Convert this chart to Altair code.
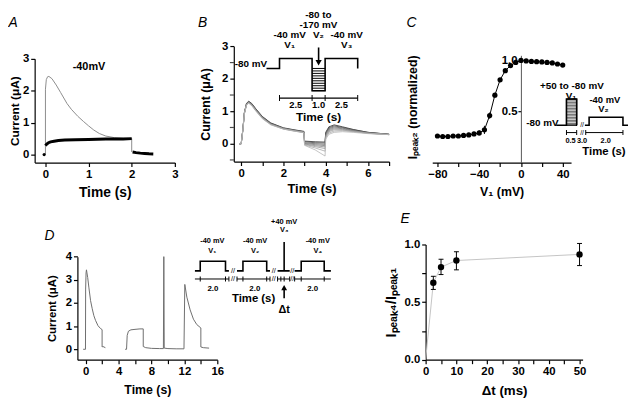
import altair as alt
import pandas as pd

FONT = "Liberation Sans"
M = 8            # page margin
W, H = 630, 394  # drawing area

# ======================= DATA =======================
# ---- Panel A : currents at -40 mV ----
A_GRAY_T = [0.0, 0.0, 0.02, 0.05, 0.08, 0.15, 0.25, 0.35, 0.5, 0.6, 0.75, 0.88, 1.0, 1.12, 1.25, 1.4, 1.6, 1.8, 2.0, 2.0]
A_GRAY_I = [0.0, 2.05, 2.35, 2.44, 2.45, 2.38, 2.18, 1.95, 1.6, 1.42, 1.2, 1.04, 0.9, 0.77, 0.66, 0.58, 0.53, 0.51, 0.5, 0.08]
A_BLACK_T = [0.0, 0.03, 0.07, 0.12, 0.2, 0.3, 0.45, 0.7, 1.0, 1.4, 1.8, 2.0]
A_BLACK_I = [0.28, 0.33, 0.37, 0.4, 0.42, 0.44, 0.455, 0.465, 0.475, 0.485, 0.49, 0.5]
A_TAIL_T = [2.02, 2.1, 2.2, 2.3, 2.4, 2.5]
A_TAIL_I = [0.08, 0.06, 0.045, 0.035, 0.025, 0.02]
A_DOT_T = [-0.03]
A_DOT_I = [0.0]
A_XTICKS = [0, 0.5, 1, 1.5, 2, 2.5, 3]
A_YTICKS = [0, 0.5, 1, 1.5, 2, 2.5, 3]

# ---- Panel B : family of traces ----
B_T = [-0.1, 0.0, 0.08, 0.15, 0.25, 0.35, 0.5, 0.7, 1.0, 1.4, 2.0, 2.5, 2.97,
       3.0, 3.5, 3.97, 4.0, 4.15, 4.4, 4.8, 5.3, 6.0, 7.0]
B_TRACES = [
    [0, 0, 0.45, 0.96, 1.24, 1.31, 1.24, 1.07, 0.84, 0.64, 0.49, 0.43, 0.38, 0.08, 0.06, 0.05, 0.35, 0.52, 0.58, 0.52, 0.44, 0.35, 0.29],
    [0, 0, 0.44, 0.95, 1.23, 1.30, 1.23, 1.06, 0.83, 0.63, 0.48, 0.42, 0.37, 0.06, 0.03, 0.02, 0.32, 0.49, 0.55, 0.50, 0.43, 0.35, 0.29],
    [0, 0, 0.44, 0.94, 1.22, 1.29, 1.22, 1.05, 0.82, 0.62, 0.47, 0.41, 0.36, 0.03, 0.00, -0.02, 0.30, 0.46, 0.52, 0.48, 0.41, 0.34, 0.29],
    [0, 0, 0.43, 0.94, 1.21, 1.28, 1.21, 1.04, 0.81, 0.61, 0.47, 0.41, 0.36, 0.01, -0.03, -0.06, 0.27, 0.43, 0.49, 0.46, 0.40, 0.33, 0.28],
    [0, 0, 0.43, 0.93, 1.20, 1.27, 1.20, 1.03, 0.80, 0.60, 0.46, 0.40, 0.35, -0.01, -0.06, -0.10, 0.24, 0.40, 0.46, 0.44, 0.39, 0.33, 0.28],
    [0, 0, 0.42, 0.93, 1.20, 1.27, 1.19, 1.02, 0.79, 0.60, 0.46, 0.40, 0.35, -0.02, -0.09, -0.15, 0.21, 0.37, 0.43, 0.42, 0.38, 0.32, 0.28],
    [0, 0, 0.42, 0.92, 1.19, 1.26, 1.18, 1.01, 0.78, 0.59, 0.45, 0.39, 0.34, -0.04, -0.13, -0.23, 0.18, 0.33, 0.39, 0.40, 0.37, 0.32, 0.28],
    [0, 0, 0.41, 0.92, 1.18, 1.25, 1.17, 1.00, 0.77, 0.58, 0.45, 0.39, 0.34, -0.05, -0.19, -0.38, 0.14, 0.29, 0.35, 0.37, 0.35, 0.31, 0.28],
]
B_XTICKS = [0, 1, 2, 3, 4, 5, 6, 7]
B_YTICKS = [0, 1, 2, 3]
B_YMINOR = [-0.5, 0.5, 1.5, 2.5]
# inset protocol (schematic time in s, voltage in mV)
B_PROT_T = [-1.0, 0.0, 0.0, 2.5, 2.5, 3.5, 3.5, 6.0, 6.0]
B_PROT_V = [-80, -80, -40, -40, -170, -170, -40, -40, -80]
B_STEP_V = [-80, -90, -100, -110, -120, -130, -140, -150, -160, -170]
B_BAR_TICKS = [0.0, 2.5, 3.5, 6.0]
B_BAR_LABELS = ["2.5", "1.0", "2.5"]

# ---- Panel C : availability curve ----
C_V1 = [-80, -75, -70, -65, -60, -55, -50, -45, -40, -35, -30, -25, -20, -15, -10, -5, 0, 5, 10, 15, 20, 25, 30, 35, 40]
C_I = [0.26, 0.255, 0.255, 0.26, 0.26, 0.265, 0.27, 0.28, 0.29, 0.32, 0.46, 0.66, 0.81, 0.90, 0.95, 0.98, 1.0, 0.995, 0.99, 0.988, 0.985, 0.98, 0.975, 0.965, 0.955]
C_ERR = [0.01, 0.01, 0.01, 0.012, 0.012, 0.015, 0.02, 0.02, 0.025, 0.04, 0.03, 0.02, 0.015, 0.01, 0.01, 0.01, 0.005, 0.005, 0.005, 0.005, 0.005, 0.005, 0.005, 0.005, 0.005]
C_XTICKS = [-80, -60, -40, -20, 0, 20, 40]
C_YTICKS = [0.5, 1.0]
C_PROT1_T = [-0.5, 0.0, 0.0, 0.5, 0.5, 0.62]
C_PROT1_V = [-80, -80, 50, 50, -80, -80]
C_PROT2_T = [3.25, 3.5, 3.5, 5.5, 5.5, 5.8]
C_PROT2_V = [-80, -80, -40, -40, -80, -80]
C_STRIPES = [-65, -50, -35, -20, -5, 10, 25, 40]

# ---- Panel D : four-pulse protocol currents ----
D1_T = [-0.3, -0.02, 0.0, 0.05, 0.1, 0.25, 0.4, 0.6, 0.8, 1.0, 1.2, 1.5, 1.8, 2.0, 2.0, 2.1, 2.4]
D1_I = [0.0, 0.0, 2.6, 3.3, 3.43, 3.1, 2.65, 2.1, 1.75, 1.45, 1.25, 1.02, 0.9, 0.85, 0.1, 0.12, 0.07]
D2_T = [4.8, 4.97, 5.05, 5.2, 5.5, 6.0, 6.6, 7.0, 7.0, 7.3, 8.0, 9.0, 9.45, 9.5, 9.55, 10.0, 11.0, 11.95, 12.05, 12.3, 12.7, 13.1, 13.5, 14.0, 14.0, 14.3, 15.0]
D2_I = [0.0, 0.0, 0.6, 0.78, 0.84, 0.86, 0.88, 0.88, 0.12, 0.07, 0.04, 0.03, 0.03, 4.0, 0.05, 0.03, 0.02, 0.02, 2.8, 2.25, 1.7, 1.3, 1.07, 0.92, 0.1, 0.07, 0.05]
D_XTICKS = [0, 2, 4, 6, 8, 10, 12, 14, 16]
D_YTICKS = [0, 1, 2, 3, 4]
D_PROT = [
    ([-0.42, 0.0, 0.0, 2.0, 2.0, 2.27], [-80, -80, -40, -40, -80, -80]),
    ([2.91, 3.38, 3.38, 5.26, 5.26, 5.52], [-80, -80, -40, -40, -80, -80]),
    ([6.12, 6.64, 6.64, 6.64, 7.08], [-80, -80, 40, -80, -80]),
    ([7.47, 7.99, 7.99, 9.81, 9.81, 10.34], [-80, -80, -40, -40, -80, -80]),
]
D_BAR_START = [-0.42, 2.91, 6.12, 7.47]
D_BAR_END = [2.27, 5.52, 7.08, 10.34]
D_BAR_TICKS = [0.0, 2.0, 2.27, 2.91, 3.38, 5.26, 5.52, 6.12, 6.38, 6.64, 7.08, 7.47, 7.99, 9.81]
D_BREAKS = [2.59, 5.82, 7.28]

# ---- Panel E : recovery vs interval ----
E_DT = [2.5, 5, 10, 50]
E_MEAN = [0.668, 0.804, 0.861, 0.914]
E_LO = [0.61, 0.739, 0.78, 0.817]
E_HI = [0.724, 0.872, 0.937, 1.009]
E_LINE_T = [0, 2.5, 5, 10, 50]
E_LINE_V = [0, 0.668, 0.804, 0.861, 0.914]
E_XTICKS = [0, 5, 10, 15, 20, 25, 30, 35, 40, 45, 50]
E_YTICKS = [0, 0.25, 0.5, 0.75, 1.0]


# ======================= HELPERS =======================
def sc(domain, p0, p1):
    return alt.Scale(domain=domain, range=[p0 - M, p1 - M], nice=False, zero=False)


def lab_expr(every):
    return f"abs(datum.value / {every} - round(datum.value / {every})) < 0.001 ? datum.label : ''"


def ax_bottom(ypx, values, every, title, tsize, tpad=4, fmt="d"):
    return alt.Axis(orient="bottom", offset=(ypx - M) - H, values=values, labelExpr=lab_expr(every),
                    titleFontSize=tsize, titlePadding=tpad, labelFlush=False, labelOverlap=False,
                    title=title, format=fmt)


def ax_left(xpx, values, every, title, tsize=12, tpad=4, fmt="d"):
    return alt.Axis(orient="left", offset=-(xpx - M), values=values, labelExpr=lab_expr(every),
                    titleFontSize=tsize, titlePadding=tpad, labelFlush=False, labelOverlap=False,
                    title=title, format=fmt)


def frame(xs, ys, **extra):
    d = pd.DataFrame({"x": xs, "y": ys, **extra})
    d["i"] = range(len(d))
    return d


def line(df, sx, sy, color="black", width=1.0, xaxis=None, yaxis=None, detail=False):
    enc = dict(x=alt.X("x:Q", scale=sx, axis=xaxis), y=alt.Y("y:Q", scale=sy, axis=yaxis), order="i:Q")
    if detail:
        enc["detail"] = "seg:N"
    return alt.Chart(df).mark_line(color=color, strokeWidth=width).encode(**enc)


def text(labels, xs, ys, sx, sy, size, weight="bold", style="normal", angle=0, align="center"):
    df = pd.DataFrame({"x": xs, "y": ys, "label": labels})
    return alt.Chart(df).mark_text(font=FONT, fontSize=size, fontWeight=weight, fontStyle=style,
                                   angle=angle, align=align, baseline="middle", color="black").encode(
        x=alt.X("x:Q", scale=sx, axis=None), y=alt.Y("y:Q", scale=sy, axis=None), text="label:N")


def hrules(x0, x1, ys, sx, sy, color="black", width=1.0):
    df = pd.DataFrame({"x": x0, "x2": x1, "y": ys})
    return alt.Chart(df).mark_rule(color=color, strokeWidth=width).encode(
        x=alt.X("x:Q", scale=sx, axis=None), x2="x2:Q", y=alt.Y("y:Q", scale=sy, axis=None))


def vrules(xs, y0, y1, sx, sy, color="black", width=1.0):
    df = pd.DataFrame({"x": xs, "y": y0, "y2": y1})
    return alt.Chart(df).mark_rule(color=color, strokeWidth=width).encode(
        x=alt.X("x:Q", scale=sx, axis=None), y=alt.Y("y:Q", scale=sy, axis=None), y2="y2:Q")


def ticks(xs, ys, sx, sy, orient="vertical", size=6):
    df = pd.DataFrame({"x": xs, "y": ys})
    return alt.Chart(df).mark_tick(orient=orient, size=size, thickness=1, color="black", opacity=1).encode(
        x=alt.X("x:Q", scale=sx, axis=None), y=alt.Y("y:Q", scale=sy, axis=None))


def points(xs, ys, sx, sy, size=30, shape="circle"):
    df = pd.DataFrame({"x": xs, "y": ys})
    return alt.Chart(df).mark_point(shape=shape, filled=True, size=size, color="black", opacity=1).encode(
        x=alt.X("x:Q", scale=sx, axis=None), y=alt.Y("y:Q", scale=sy, axis=None))


layers = []

# ======================= PANEL A =======================
sAx, sAy = sc([-0.25, 3], 35, 177), sc([-0.25, 3], 162, 57)
layers.append(line(frame(A_GRAY_T, A_GRAY_I), sAx, sAy, "#8c8c8c", 1.0,
                   xaxis=ax_bottom(162, A_XTICKS, 1, "Time (s)", 14, 6),
                   yaxis=ax_left(35, A_YTICKS, 1, "Current (μA)", 12, 1)))
layers.append(line(frame(A_BLACK_T, A_BLACK_I), sAx, sAy, "black", 3.0))
layers.append(line(frame(A_TAIL_T, A_TAIL_I), sAx, sAy, "black", 3.0))
layers.append(points(A_DOT_T, A_DOT_I, sAx, sAy, size=10))
layers.append(text(["-40mV"], [1.01], [2.75], sAx, sAy, 11))
layers.append(text(["A"], [-0.75], [4.11], sAx, sAy, 14, weight="normal", style="italic"))

# ======================= PANEL B =======================
sBx, sBy = sc([-0.35, 7], 236.7, 394), sc([-0.55, 3], 161, 44.3)
brow = []
for k, tr in enumerate(B_TRACES):
    for j, (t, v) in enumerate(zip(B_T, tr)):
        brow.append({"x": t, "y": v, "seg": f"t{8 - k}", "i": j})
bdf = pd.DataFrame(brow)
B_COLORS = ["#b5b5b5", "#a8a8a8", "#9a9a9a", "#8c8c8c", "#7a7a7a", "#666666", "#4a4a4a", "#2a2a2a"]
b_yaxis = alt.Axis(orient="left", offset=-(236.7 - M), values=B_YTICKS, format="d",
                   title="Current (μA)", titleFontSize=12.5, titlePadding=9,
                   labelFlush=False, labelOverlap=False)
layers.append(alt.Chart(bdf).mark_line(strokeWidth=0.8).encode(
    x=alt.X("x:Q", scale=sBx, axis=ax_bottom(161, B_XTICKS, 2, "Time (s)", 13, 4)),
    y=alt.Y("y:Q", scale=sBy, axis=b_yaxis),
    detail="seg:N", order="i:Q",
    color=alt.Color("seg:N", scale=alt.Scale(domain=[f"t{n}" for n in range(1, 9)], range=B_COLORS), legend=None)))
layers.append(alt.Chart(pd.DataFrame({"x": [-0.35] * 4, "y": B_YMINOR})).mark_tick(
    orient="horizontal", size=4, thickness=1.2, color="black", xOffset=-2).encode(
    x=alt.X("x:Q", scale=sBx, axis=None), y=alt.Y("y:Q", scale=sBy, axis=None)))
layers.append(text(["B"], [-1.83], [3.72], sBx, sBy, 14, weight="normal", style="italic"))

# B inset
sBix, sBiy = sc([-1, 6], 269.8, 362.2), sc([-300, 200], 121.7, -3.3)
layers.append(line(frame(B_PROT_T, B_PROT_V), sBix, sBiy, "black", 1.6))
layers.append(hrules([2.5] * len(B_STEP_V), [3.5] * len(B_STEP_V), B_STEP_V, sBix, sBiy, "black", 1.0))
layers.append(vrules([3.0], [5], [-52], sBix, sBiy, "black", 1.6))
layers.append(points([3.0], [-57], sBix, sBiy, size=40, shape="triangle-down"))
layers.append(hrules([0.0], [6.0], [-200], sBix, sBiy, "black", 1.4))
layers.append(ticks(B_BAR_TICKS, [-200] * 4, sBix, sBiy, size=6))
layers.append(text(B_BAR_LABELS, [1.25, 3.0, 4.75], [-229] * 3, sBix, sBiy, 9.5))
layers.append(text(["Time (s)"], [3.0], [-277], sBix, sBiy, 12))
layers.append(text(["-40 mV", "V₁", "-80 to", "-170 mV", "V₂", "-40 mV", "V₃", "-80 mV"],
                   [0.78, 0.78, 2.99, 2.99, 2.99, 5.15, 5.15, -2.2],
                   [54.8, 14.8, 136, 94, 54, 54.8, 14.8, -61], sBix, sBiy, 10))

# ======================= PANEL C =======================
sCx, sCy = sc([-85, 48], 437.7, 578.3), sc([0, 1.05], 162, 53.4)
layers.append(line(frame(C_V1, C_I), sCx, sCy, "black", 1.0,
                   xaxis=ax_bottom(162, C_XTICKS, 40, "V₁ (mV)", 12.5, 6),
                   yaxis=alt.Axis(orient="left", offset=-(527.5 - M), values=C_YTICKS, format=".1f",
                                  title=None, tickSize=3, labelPadding=1, labelFlush=False,
                                  domainColor="#555555", domainWidth=1.0)))
layers.append(vrules(C_V1, [a - b for a, b in zip(C_I, C_ERR)], [a + b for a, b in zip(C_I, C_ERR)],
                     sCx, sCy, "black", 1.0))
layers.append(points(C_V1, C_I, sCx, sCy, size=28))
layers.append(text(["Iₚₑₐₖ₂ (normalized)"], [-103.6], [0.54], sCx, sCy, 12.5, angle=270))
layers.append(text(["C"], [-104.8], [1.367], sCx, sCy, 14, weight="normal", style="italic"))

# C inset
sCix = alt.Scale(domain=[-0.5, 0.5, 3.25, 5.8], range=[563.3 - M, 584 - M, 592.3 - M, 636 - M], nice=False, zero=False)
sCiy = sc([-300, 300], 169.3, 46.5)
layers.append(alt.Chart(pd.DataFrame({"x": [0.0], "x2": [0.5], "y": [-80], "y2": [50]})).mark_rect(
    fill="#7a7a7a", stroke="black", strokeWidth=1).encode(
    x=alt.X("x:Q", scale=sCix, axis=None), x2="x2:Q", y=alt.Y("y:Q", scale=sCiy, axis=None), y2="y2:Q"))
layers.append(hrules([0.02] * len(C_STRIPES), [0.48] * len(C_STRIPES), C_STRIPES, sCix, sCiy, "#e8e8e8", 1.0))
layers.append(line(frame(C_PROT1_T, C_PROT1_V), sCix, sCiy, "black", 1.6))
layers.append(line(frame(C_PROT2_T, C_PROT2_V), sCix, sCiy, "black", 1.6))
layers.append(hrules([0.0, 3.3], [0.5, 5.5], [-116, -116], sCix, sCiy, "black", 1.0))
layers.append(ticks([0.0, 0.5, 3.3, 5.5], [-116] * 4, sCix, sCiy, size=5))
layers.append(text(["//", "//"], [2.3, 2.3], [-80, -116], sCix, sCiy, 7, weight="normal"))
layers.append(text(["0.5", "3.0", "2.0"], [0.2, 2.3, 4.48], [-158] * 3, sCix, sCiy, 7.5))
layers.append(text(["Time (s)"], [4.38], [-210], sCix, sCiy, 11.5))
layers.append(text(["+50 to -80 mV", "V₁", "-80 mV"],
                   [0.27, 0.22, -1.18], [114, 66, -71], sCix, sCiy, 10))
layers.append(text(["-40 mV", "V₂"], [4.43, 4.35], [44, 0], sCix, sCiy, 9.5))

# ======================= PANEL D =======================
sDx, sDy = sc([-1, 16], 78.3, 220), sc([-0.45, 4], 361.7, 257.3)
d_df = pd.concat([frame(D1_T, D1_I, seg="a"), frame(D2_T, D2_I, seg="b")], ignore_index=True)
layers.append(line(d_df, sDx, sDy, "#6e6e6e", 1.0, detail=True,
                   xaxis=ax_bottom(361.7, D_XTICKS, 4, "Time (s)", 12.5, 7),
                   yaxis=ax_left(78.3, D_YTICKS, 1, "Current (μA)", 11.5, 8)))
layers.append(text(["D"], [-4.39], [4.885], sDx, sDy, 14, weight="normal", style="italic"))

# D inset
sDix, sDiy = sc([-1, 11], 189.9, 343.5), sc([-300, 200], 325.05, 203.8)
p_rows = []
for k, (ts, vs) in enumerate(D_PROT):
    for j, (t, v) in enumerate(zip(ts, vs)):
        p_rows.append({"x": t, "y": v, "seg": f"p{k}", "i": j})
layers.append(line(pd.DataFrame(p_rows), sDix, sDiy, "black", 1.6, detail=True))
layers.append(hrules(D_BAR_START, D_BAR_END, [-114] * 4, sDix, sDiy, "black", 1.0))
layers.append(ticks(D_BAR_TICKS, [-114] * len(D_BAR_TICKS), sDix, sDiy, size=5))
layers.append(text(["//"] * 6, D_BREAKS * 2, [-80] * 3 + [-114] * 3, sDix, sDiy, 7.5, weight="normal"))
layers.append(text(["2.0", "2.0", "2.0"], [1.0, 4.32, 8.9], [-155] * 3, sDix, sDiy, 8))
layers.append(text(["Time (s)"], [4.22], [-197], sDix, sDiy, 11.5))
layers.append(vrules([6.64], [-194], [-152], sDix, sDiy, "black", 1.6))
layers.append(points([6.64], [-150], sDix, sDiy, size=35, shape="triangle-up"))
layers.append(text(["Δt"], [6.64], [-242], sDix, sDiy, 11))
layers.append(text(["-40 mV", "V₁", "-40 mV", "V₂", "+40 mV", "V₃", "-40 mV", "V₄"],
                   [0.96, 0.96, 4.34, 4.34, 6.64, 6.64, 9.3, 9.3],
                   [43.7, 2.5, 43.7, 2.5, 126, 92, 43.7, 2.5], sDix, sDiy, 7.5))

# ======================= PANEL E =======================
sEx, sEy = sc([0, 51], 431, 590), sc([0, 1], 361.7, 245)
layers.append(line(frame(E_LINE_T, E_LINE_V), sEx, sEy, "#c4c4c4", 1.0,
                   xaxis=ax_bottom(361.7, E_XTICKS, 10, "Δt (ms)", 13.5, 7),
                   yaxis=ax_left(431, E_YTICKS, 0.5, "Iₚₑₐₖ₄/Iₚₑₐₖ₁", 15, 6, fmt=".1f")))
layers.append(vrules(E_DT, E_LO, E_HI, sEx, sEy, "black", 1.0))
layers.append(ticks(E_DT + E_DT, E_LO + E_HI, sEx, sEy, orient="horizontal", size=5))
layers.append(points(E_DT, E_MEAN, sEx, sEy, size=42))
layers.append(text(["E"], [-6.7], [1.223], sEx, sEy, 14, weight="normal", style="italic"))

chart = alt.layer(*layers).resolve_scale(x="independent", y="independent").properties(
    width=W, height=H, padding=0, autosize="none"
).configure(font=FONT).configure_axis(
    domainColor="black", domainWidth=1.2, tickColor="black", tickWidth=1.2, tickSize=4,
    labelFont=FONT, labelFontSize=11.5, labelFontWeight="bold", labelColor="black",
    titleFont=FONT, titleFontWeight="bold", titleColor="black", grid=False, labelPadding=2
).configure_view(stroke=None)

chart.save("out.html", embed_options={"renderer": "svg", "actions": False})
